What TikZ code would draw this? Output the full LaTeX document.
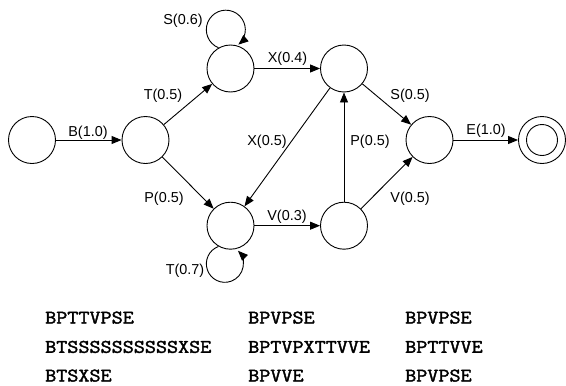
\documentclass[tikz,border=0pt]{standalone}
\usepackage{fontspec}
\setmainfont{Liberation Sans}
\newfontfamily\seqfont{Latin Modern Mono}[FakeStretch=1.12,FakeBold=2]
\usetikzlibrary{arrows.meta}
\begin{document}
\begin{tikzpicture}[x=1pt,y=1pt,
    state/.style={circle,draw,line width=0.9pt,minimum size=47pt,inner sep=0pt},
    arr/.style={-{Triangle[length=10pt,width=8pt]},line width=0.9pt},
    lbl/.style={font=\fontsize{14.4}{16}\selectfont,inner sep=0pt},
    seq/.style={font=\seqfont\fontsize{19.2}{20}\selectfont,anchor=base west,inner sep=0pt}]
  \useasboundingbox (0,0) rectangle (566,-386);

  % states of the grammar
  \node[state]  (s0) at (32,-140) {};
  \node[state]  (s1) at (145.5,-140) {};
  \node[state]  (s2) at (230.5,-68.5) {};
  \node[state]  (s3) at (344,-68.5) {};
  \node[state]  (s4) at (429.5,-140) {};
  \node[state]  (s6) at (230.5,-225.7) {};
  \node[state]  (s7) at (344,-225.7) {};
  % final state: two concentric circles
  \node[state] (s5) at (542,-140) {};
  \node[state,minimum size=31pt] (s5in) at (s5) {};

  % transitions
  \draw[arr] (s0) -- (s1);
  \draw[arr] (s1) -- (s2);
  \draw[arr] (s1) -- (s6);
  \draw[arr] (s2) -- (s3);
  \draw[arr] (s3) -- (s6);
  \draw[arr] (s3) -- (s4);
  \draw[arr] (s6) -- (s7);
  \draw[arr] (s7) -- (s3);
  \draw[arr] (s7) -- (s4);
  \draw[arr] (s4) -- (s5);

  % self loops
  \draw[arr] (s2.120) arc[start angle=248,end angle=-50,radius=19.5];
  \draw[arr] (s6.240) arc[start angle=110,end angle=405,radius=18.5];

  % transition labels
  \node[lbl] (lB)  at (88,-133)  {B(1.0)};
  \node[lbl] (lT1) at (163,-96)  {T(0.5)};
  \node[lbl] (lS1) at (183,-21)  {S(0.6)};
  \node[lbl] (lX1) at (287.5,-59) {X(0.4)};
  \node[lbl] (lX2) at (267,-142) {X(0.5)};
  \node[lbl] (lS2) at (410,-96)  {S(0.5)};
  \node[lbl] (lP2) at (370,-142) {P(0.5)};
  \node[lbl] (lE)  at (486,-131) {E(1.0)};
  \node[lbl] (lP1) at (164,-199) {P(0.5)};
  \node[lbl] (lV1) at (287,-217) {V(0.3)};
  \node[lbl] (lV2) at (410,-199) {V(0.5)};
  \node[lbl] (lT2) at (185,-271) {T(0.7)};

  % example strings
  \node[seq] (a1) at (45,-323.5)  {BPTTVPSE};
  \node[seq] (a2) at (45,-352.8)  {BTSSSSSSSSSSXSE};
  \node[seq] (a3) at (45,-381.5)  {BTSXSE};
  \node[seq] (b1) at (248,-323.5) {BPVPSE};
  \node[seq] (b2) at (248,-352.8) {BPTVPXTTVVE};
  \node[seq] (b3) at (248,-381.5) {BPVVE};
  \node[seq] (c1) at (405,-323.5) {BPVPSE};
  \node[seq] (c2) at (405,-352.8) {BPTTVVE};
  \node[seq] (c3) at (405,-381.5) {BPVPSE};
\end{tikzpicture}
\end{document}
